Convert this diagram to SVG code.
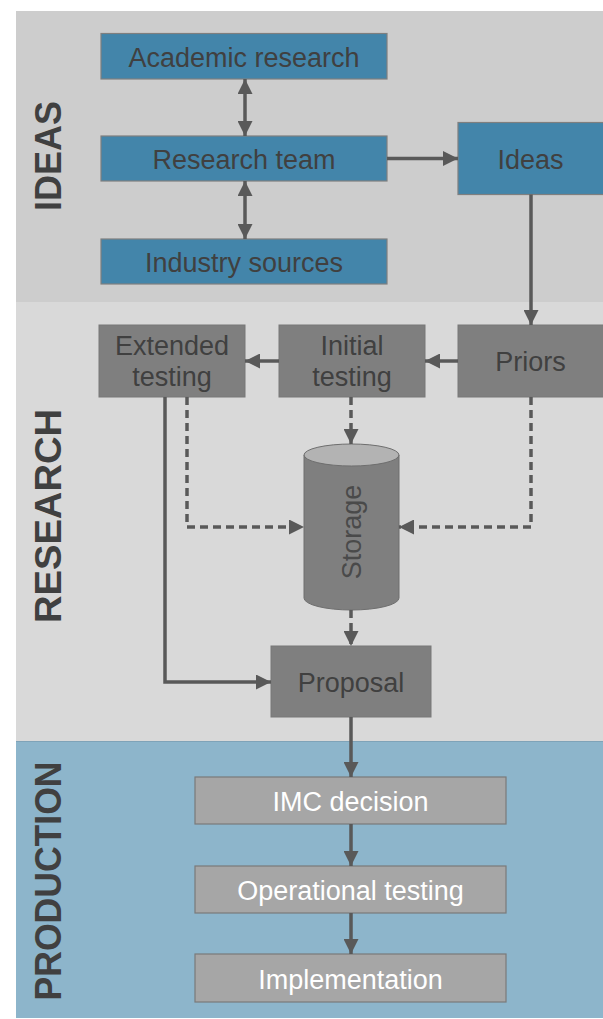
<svg xmlns="http://www.w3.org/2000/svg" width="603" height="1019" viewBox="0 0 603 1019">
<style>
  .lbl{font-family:"Liberation Sans",Arial,sans-serif;font-weight:bold;font-size:37px;fill:#404040;text-anchor:middle}
  .t{font-family:"Liberation Sans",Arial,sans-serif;font-size:27px;text-anchor:middle}
  .blue rect{fill:#4385aa;stroke:#7f7f7f;stroke-width:1.2}
  .blue text{fill:#404040}
  .grey rect{fill:#7f7f7f;stroke:#787878;stroke-width:1}
  .grey text{fill:#404040}
  .prod rect{fill:#a6a6a6;stroke:#7a7a7a;stroke-width:1.2}
  .prod text{fill:#ffffff}
  .c{fill:none;stroke:#595959;stroke-width:3.5}
  .d{stroke-dasharray:8,5}
</style>
<defs>
  <marker id="ah" markerUnits="userSpaceOnUse" markerWidth="15" markerHeight="15" refX="15" refY="7.5" orient="auto-start-reverse" viewBox="0 0 15 15">
    <path d="M0,0 L15,7.5 L0,15 Z" fill="#595959"/>
  </marker>
</defs>
<g id="bands">
  <rect x="16" y="11" width="587" height="291" fill="#cdcdcd"/>
  <rect x="16" y="302" width="587" height="439" fill="#d9d9d9"/>
  <rect x="16" y="741" width="587" height="277" fill="#8db5cb"/>
  <line x1="16" y1="741.5" x2="603" y2="741.5" stroke="#7fa3b8" stroke-width="1"/>
  <text class="lbl" transform="translate(61,156) rotate(-90)" textLength="110" lengthAdjust="spacingAndGlyphs">IDEAS</text>
  <text class="lbl" transform="translate(61,516) rotate(-90)" textLength="214" lengthAdjust="spacingAndGlyphs">RESEARCH</text>
  <text class="lbl" transform="translate(61,881) rotate(-90)" textLength="239" lengthAdjust="spacingAndGlyphs">PRODUCTION</text>
</g>
<g id="academic" class="blue"><rect x="101" y="33.5" width="286" height="45.5"/><text class="t" x="244" y="66.5">Academic research</text></g>
<g id="team" class="blue"><rect x="101" y="136" width="286" height="45"/><text class="t" x="244" y="168.5">Research team</text></g>
<g id="industry" class="blue"><rect x="101" y="239" width="286" height="45"/><text class="t" x="244" y="271.5">Industry sources</text></g>
<g id="ideas" class="blue"><rect x="458" y="122.5" width="147" height="72"/><text class="t" x="530.5" y="169">Ideas</text></g>
<g id="extended" class="grey"><rect x="99" y="325" width="146" height="72"/><text class="t" x="172" y="354.5">Extended</text><text class="t" x="172" y="386">testing</text></g>
<g id="initial" class="grey"><rect x="279" y="325" width="146" height="72"/><text class="t" x="352" y="354.5">Initial</text><text class="t" x="352" y="386">testing</text></g>
<g id="priors" class="grey"><rect x="458" y="325" width="147" height="72"/><text class="t" x="530.5" y="371">Priors</text></g>
<g id="storage">
  <path d="M304,455 L304,598 A47.5,12 0 0 0 399,598 L399,455 Z" fill="#7f7f7f" stroke="#6e6e6e" stroke-width="1"/>
  <ellipse cx="351.5" cy="455" rx="47.5" ry="11" fill="#b3b3b3" stroke="#6e6e6e" stroke-width="1"/>
  <text class="t" fill="#4a4a4a" transform="translate(361,532) rotate(-90)">Storage</text>
</g>
<g id="proposal" class="grey"><rect x="271" y="646" width="160" height="71"/><text class="t" x="351" y="692">Proposal</text></g>
<g id="imc" class="prod"><rect x="195" y="777" width="311" height="47"/><text class="t" x="350.5" y="810.5">IMC decision</text></g>
<g id="optest" class="prod"><rect x="195" y="866" width="311" height="47"/><text class="t" x="350.5" y="899.5">Operational testing</text></g>
<g id="impl" class="prod"><rect x="195" y="954" width="311" height="48"/><text class="t" x="350.5" y="988.5">Implementation</text></g>
<g id="connectors">
  <line class="c" x1="245" y1="79" x2="245" y2="136" marker-start="url(#ah)" marker-end="url(#ah)"/>
  <line class="c" x1="245" y1="181" x2="245" y2="239" marker-start="url(#ah)" marker-end="url(#ah)"/>
  <line class="c" x1="387" y1="158.5" x2="458" y2="158.5" marker-end="url(#ah)"/>
  <line class="c" x1="531" y1="194.5" x2="531" y2="325" marker-end="url(#ah)"/>
  <line class="c" x1="458" y1="361" x2="425" y2="361" marker-end="url(#ah)"/>
  <line class="c" x1="279" y1="361" x2="245" y2="361" marker-end="url(#ah)"/>
  <line class="c d" x1="351" y1="397" x2="351" y2="444" marker-end="url(#ah)"/>
  <polyline class="c d" points="187,397 187,527 304,527" marker-end="url(#ah)"/>
  <polyline class="c d" points="531,397 531,527 399,527" marker-end="url(#ah)"/>
  <line class="c d" x1="351" y1="610" x2="351" y2="646" marker-end="url(#ah)"/>
  <polyline class="c" points="165,397 165,682 271,682" marker-end="url(#ah)"/>
  <line class="c" x1="351" y1="717" x2="351" y2="777" marker-end="url(#ah)"/>
  <line class="c" x1="351" y1="824" x2="351" y2="866" marker-end="url(#ah)"/>
  <line class="c" x1="351" y1="913" x2="351" y2="954" marker-end="url(#ah)"/>
</g>
</svg>
